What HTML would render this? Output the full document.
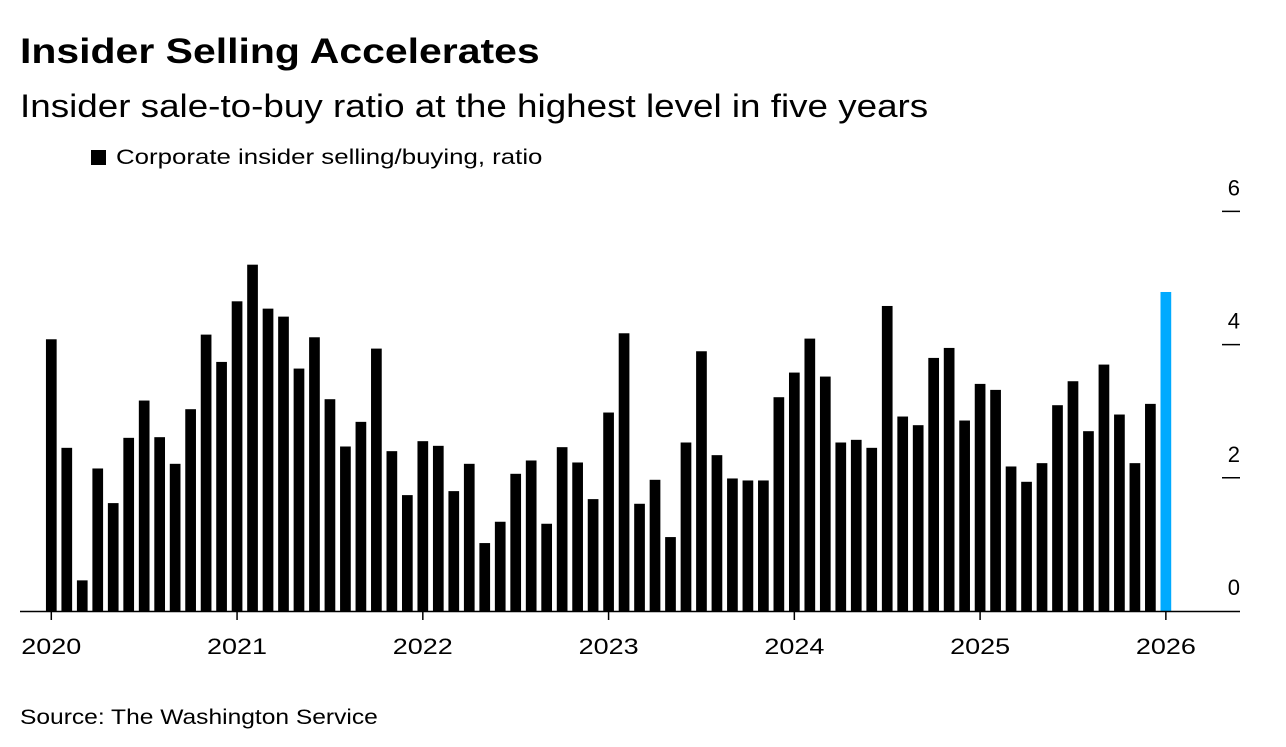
<!DOCTYPE html>
<html><head><meta charset="utf-8"><style>
body{margin:0;background:#fff;width:1286px;height:747px;overflow:hidden;font-family:"Liberation Sans",Arial,sans-serif;color:#000}
.t{position:absolute;white-space:nowrap;transform-origin:0 0}
</style></head><body>
<div class="t" style="left:20px;top:32px;font-size:35px;font-weight:bold;transform:scaleX(1.17)">Insider Selling Accelerates</div>
<div class="t" style="left:20px;top:88px;font-size:32px;transform:scaleX(1.15)">Insider sale-to-buy ratio at the highest level in five years</div>
<div class="t" style="left:91px;top:146px;font-size:21px"><span style="display:inline-block;width:15px;height:15px;background:#000;margin-right:10px;vertical-align:-1px"></span><span style="display:inline-block;transform:scaleX(1.23);transform-origin:0 0">Corporate insider selling/buying, ratio</span></div>
<div class="t" style="left:20px;top:706px;font-size:21px;transform:scaleX(1.17)">Source: The Washington Service</div>
<svg id="chart" width="1286" height="747" style="position:absolute;left:0;top:0"></svg>
<script>
const values=[4.08,2.45,0.46,2.14,1.62,2.60,3.16,2.61,2.21,3.03,4.15,3.74,
4.65,5.20,4.54,4.42,3.64,4.11,3.18,2.47,2.84,3.94,2.40,1.74,
2.55,2.48,1.80,2.21,1.02,1.34,2.06,2.26,1.31,2.46,2.23,1.68,
2.98,4.17,1.61,1.97,1.11,2.53,3.90,2.34,1.99,1.96,1.96,3.21,
3.58,4.09,3.52,2.53,2.57,2.45,4.58,2.92,2.79,3.80,3.95,2.86,
3.41,3.32,2.17,1.94,2.22,3.09,3.45,2.70,3.70,2.95,2.22,3.11,
4.79];
const yTicks=[0,2,4,6];
const yearLabels=["2020","2021","2022","2023","2024","2025","2026"];
const NS="http://www.w3.org/2000/svg";
const svg=document.getElementById('chart');
const x0=51.3,step=15.48,bw=10.7;
function xs(i){return x0+i*step;}
function ys(v){return 611-v*66.6;}
function mk(t,a){const e=document.createElementNS(NS,t);for(const k in a)e.setAttribute(k,a[k]);svg.appendChild(e);return e;}
values.forEach((v,i)=>{
  const r=mk('rect',{x:xs(i)-bw/2,y:ys(v),width:bw,height:ys(0)-ys(v),fill:i===values.length-1?'#00aaff':'#000'});
  
  
});
const ax=mk('line',{x1:20,x2:1240,y1:ys(0)+0.5,y2:ys(0)+0.5,stroke:'#000','stroke-width':1.5});


yTicks.forEach(t=>{
  if(t>0){const d=mk('line',{x1:1222,x2:1240,y1:ys(t),y2:ys(t),stroke:'#000','stroke-width':1.5});
  
  }
  const l=mk('text',{x:1240,y:ys(t)-16,'text-anchor':'end','font-size':22,'font-family':'Liberation Sans, Arial, sans-serif'});
  l.textContent=t;
  
  
});
yearLabels.forEach((y,k)=>{
  const x=xs(k*12);
  const tk=mk('line',{x1:x,x2:x,y1:ys(0),y2:ys(0)+9,stroke:'#000','stroke-width':1.5});
  
  
  const l=mk('text',{x:x-30,y:654,'font-size':22,textLength:60,lengthAdjust:'spacingAndGlyphs','font-family':'Liberation Sans, Arial, sans-serif'});
  l.textContent=y;
  
  
});
</script>
</body></html>
